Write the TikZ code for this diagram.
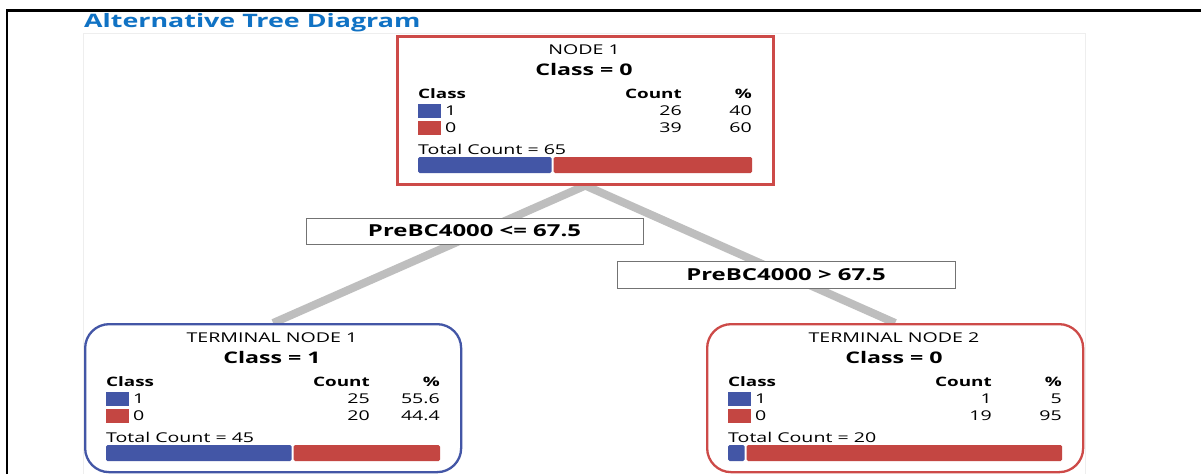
\documentclass[tikz,border=0pt]{standalone}
\usepackage{fontspec}
\setmainfont{Open Sans}[FakeStretch=1.45]
\usetikzlibrary{backgrounds}
\definecolor{cblue}{RGB}{67,86,166}
\definecolor{cred}{RGB}{196,70,66}
\definecolor{bred}{RGB}{205,74,72}
\definecolor{ttlblue}{RGB}{16,114,196}
\definecolor{branchgray}{RGB}{190,190,190}
\definecolor{panelgray}{RGB}{238,238,238}
\tikzset{
  rectbox/.style={draw=bred, line width=2.6pt, fill=white, minimum width=376pt, minimum height=148pt, inner sep=0pt},
  termbox/.style={line width=2.3pt, fill=white, rounded corners=24pt, minimum width=376pt, minimum height=148pt, inner sep=0pt},
  boxtitle/.style={inner sep=0pt, font=\fontsize{13.5}{15}\selectfont},
  boxclass/.style={inner sep=0pt, font=\bfseries\fontsize{16}{18}\selectfont},
  boxhead/.style={inner sep=0pt, font=\bfseries\fontsize{13}{15}\selectfont},
  boxtext/.style={inner sep=0pt, font=\fontsize{13.5}{15}\selectfont},
  sqblue/.style={fill=cblue, minimum width=23pt, minimum height=14pt, inner sep=0pt},
  sqred/.style={fill=cred, minimum width=23pt, minimum height=14pt, inner sep=0pt},
  splitlabel/.style={draw=black!55, line width=0.8pt, fill=white, inner sep=0pt, font=\bfseries\fontsize{16.5}{19}\selectfont},
  branch/.style={draw=branchgray, line width=8pt},
}
\newcommand\TreeBox[9]{%
  \begin{scope}[shift={(#2,#3)}]
    \node[curbox, anchor=north west] (#1) at (1,1) {};
    \node[boxtitle] (#1-title) at (189,16) {#4};
    \node[boxclass] (#1-class) at (189,35) {Class = #5};
    \node[boxhead, anchor=west] (#1-hclass) at (23,60) {Class};
    \node[boxhead, anchor=east] (#1-hcount) at (287,60) {Count};
    \node[boxhead, anchor=east] (#1-hpct) at (357,60) {\%};
    \node[sqblue] (#1-sq1) at (34.5,77) {};
    \node[sqred] (#1-sq0) at (34.5,94) {};
    \node[boxtext, anchor=west] (#1-k1) at (50,77) {1};
    \node[boxtext, anchor=west] (#1-k0) at (50,94) {0};
    \node[boxtext, anchor=east] (#1-c1) at (287,77) {#6};
    \node[boxtext, anchor=east] (#1-p1) at (357,77) {#7};
    \node[boxtext, anchor=east] (#1-c0) at (287,94) {#8};
    \node[boxtext, anchor=east] (#1-p0) at (357,94) {#9};
    \node[boxtext, anchor=west] (#1-total) at (23,115) {Total Count = \bxtotal};
    \fill[cblue, rounded corners=1.5pt] (23,123) rectangle (\bxsplit,139);
    \fill[cred, rounded corners=1.5pt] (\bxsplit+2,123) rectangle (357,139);
  \end{scope}}
\begin{document}
\begin{tikzpicture}[x=1pt, y=-1pt]
  \useasboundingbox (0,0) rectangle (1201,474);
  % outer frame
  \draw[line width=2.2pt] (7,474) -- (7,10.5) -- (1201,10.5);
  % panel outline
  \draw[panelgray, line width=1pt] (83,474) -- (83,33) -- (1085,33) -- (1085,474);
  % title
  \node[anchor=base west, inner sep=0pt, text=ttlblue, font=\bfseries\fontsize{18.5}{21}\selectfont] (title) at (84,27) {Alternative Tree Diagram};
  % boxes
  \tikzset{curbox/.style={rectbox}}
  \def\bxtotal{65}\def\bxsplit{156.6}
  \TreeBox{n1}{395}{34}{NODE 1}{0}{26}{40}{39}{60}
  \tikzset{curbox/.style={termbox, draw=cblue}}
  \def\bxtotal{45}\def\bxsplit{208.7}
  \TreeBox{t1}{83}{322}{TERMINAL NODE 1}{1}{25}{55.6}{20}{44.4}
  \tikzset{curbox/.style={termbox, draw=bred}}
  \def\bxtotal{20}\def\bxsplit{39.7}
  \TreeBox{t2}{705}{322}{TERMINAL NODE 2}{0}{1}{5}{19}{95}
  % split labels
  \node[splitlabel, minimum width=337pt, minimum height=26pt] (l1) at (474.5,231) {PreBC4000 <= 67.5};
  \node[splitlabel, minimum width=338pt, minimum height=27pt] (l2) at (786,274.5) {PreBC4000 > 67.5};
  % branches, behind boxes
  \begin{scope}[on background layer]
    \fill[white] (0,0) rectangle (1201,474);
    \draw[branch] (n1.south) -- (t1.north);
    \draw[branch] (n1.south) -- (t2.north);
  \end{scope}
\end{tikzpicture}
\end{document}
